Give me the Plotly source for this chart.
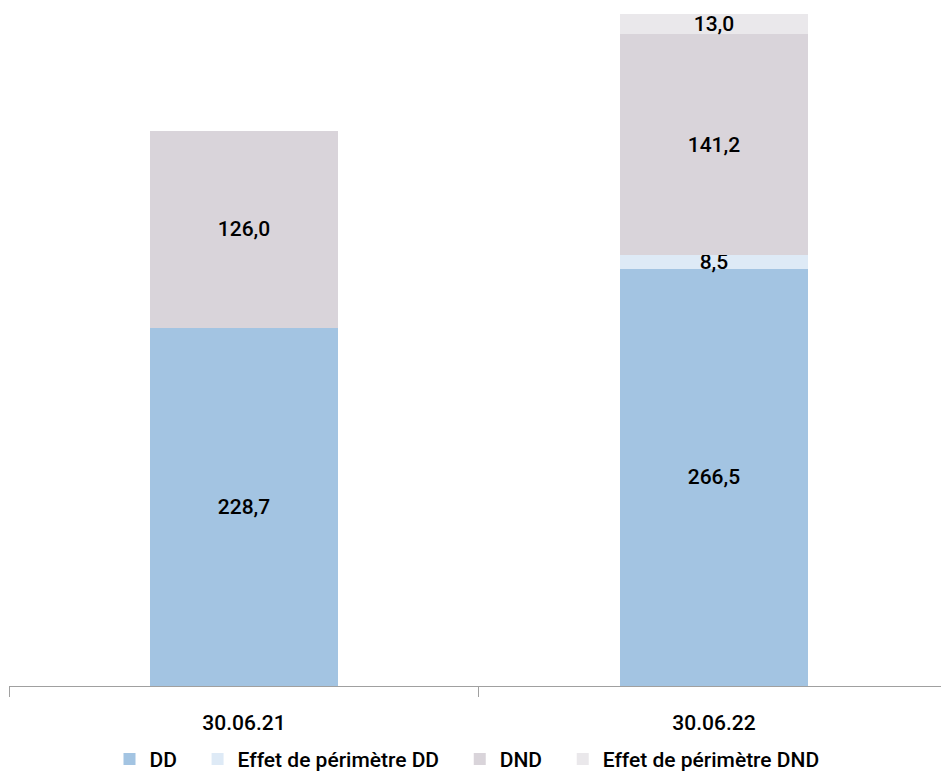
import plotly.graph_objects as go

categories = ["30.06.21", "30.06.22"]
dd = [228.7, 266.5]
effet_dd = [None, 8.5]
dnd = [126.0, 141.2]
effet_dnd = [None, 13.0]

names = ["DD", "Effet de périmètre DD", "DND", "Effet de périmètre DND"]
series = [dd, effet_dd, dnd, effet_dnd]
colors = ["#A3C4E2", "#DEEAF6", "#D9D4DA", "#EAE8EB"]

FONT = "Roboto, Liberation Sans Narrow, sans-serif"

def fmt(v):
    return "" if v is None else f"{v:.1f}".replace(".", ",")

fig = go.Figure()
for name, vals, col in zip(names, series, colors):
    fig.add_trace(go.Bar(
        x=categories, y=vals, name=name + "\u00a0\u00a0\u00a0", marker_color=col,
        marker_line_width=0,
        text=[fmt(v) for v in vals], textposition="inside",
        insidetextanchor="middle", textangle=0,
        constraintext="none",
        textfont=dict(size=21, color="black", family=FONT, weight=500),
        cliponaxis=False,
    ))

fig.update_layout(
    barmode="stack", bargap=0.6,
    width=941, height=783,
    margin=dict(l=9, r=0, t=5, b=97, autoexpand=False),
    plot_bgcolor="white", paper_bgcolor="white",
    font=dict(family=FONT, size=19, color="black", weight=500),
    uniformtext=dict(minsize=21, mode=False),
    showlegend=True,
    legend=dict(orientation="h", x=0.5, xanchor="center", yref="container",
                y=0.004, yanchor="bottom",
                font=dict(size=21, weight=500), itemwidth=30, traceorder="normal"),
    xaxis=dict(showline=True, linecolor="#A0A0A0", linewidth=1, ticks="outside",
               tickson="boundaries", ticklen=10, tickcolor="#A0A0A0",
               range=[-0.5, 1.483], ticklabelstandoff=18,
               tickfont=dict(size=21, weight=500), showgrid=False),
    yaxis=dict(range=[0, 435], visible=False, showgrid=False),
)
fig.write_html("out.html")
